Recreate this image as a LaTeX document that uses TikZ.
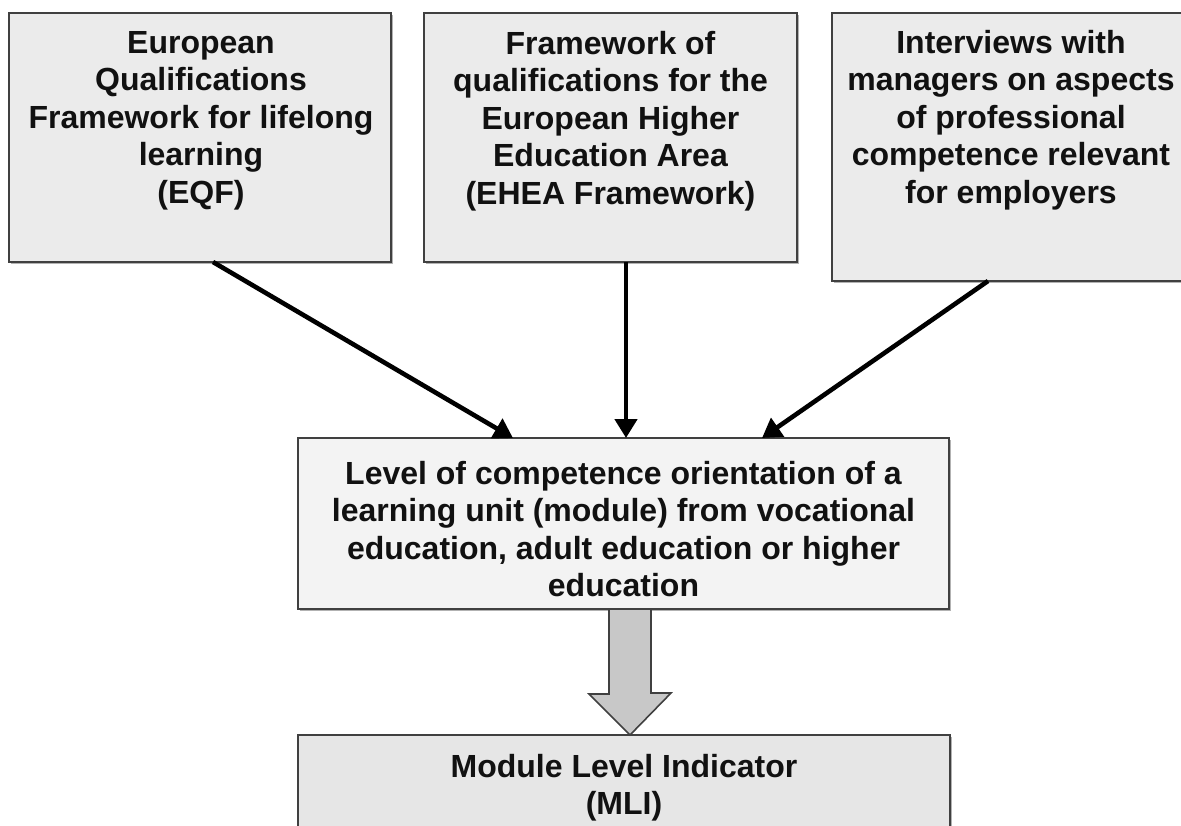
\documentclass[tikz,border=0pt]{standalone}
\usepackage{fontspec}
\setmainfont{Liberation Sans}
\usetikzlibrary{arrows.meta,calc,shadows}
\definecolor{boxline}{HTML}{404040}
\definecolor{topfill}{HTML}{EBEBEB}
\definecolor{midfill}{HTML}{F3F3F3}
\definecolor{botfill}{HTML}{E6E6E6}
\definecolor{bigarrow}{HTML}{C8C8C8}
\definecolor{txt}{HTML}{111111}
\begin{document}
\begin{tikzpicture}[x=1pt,y=-1pt,
  boxstyle/.style={draw=boxline,line width=2.2pt,inner sep=0pt,outer sep=0pt,
    drop shadow={shadow xshift=1.5pt,shadow yshift=-1.5pt,fill=gray!60,opacity=1}},
  labelstyle/.style={anchor=north,inner sep=0pt,align=center,text=txt,
    font=\bfseries\fontsize{32}{37.5}\selectfont},
  arr/.style={draw=black,line width=4.6pt,-{Triangle[length=19pt,width=22pt]}},
  fat/.style={draw=boxline,line width=1.6pt,fill=bigarrow,line join=miter}]
\useasboundingbox (0,0) rectangle (1181,825);
\clip (0,0) rectangle (1181,825);
\fill[white] (0,0) rectangle (1181,825);

% boxes
\node[boxstyle,fill=topfill,minimum width=382pt,minimum height=249pt] (b1) at (200,137.5) {};
\node[boxstyle,fill=topfill,minimum width=373pt,minimum height=249pt] (b2) at (610.5,137.5) {};
\node[boxstyle,fill=topfill,minimum width=358pt,minimum height=268pt] (b3) at (1011,147) {};
\node[boxstyle,fill=midfill,minimum width=651pt,minimum height=171pt] (mid) at (623.5,523.5) {};
\node[boxstyle,fill=botfill,minimum width=652pt,minimum height=125pt] (bot) at (624,797.5) {};

% texts
\node[labelstyle] (t1) at ($(b1.north)+(1,18)$) {European\\Qualifications\\Framework for lifelong\\learning\\(EQF)};
\node[labelstyle] (t2) at ($(b2.north)+(0,18)$) {Framework of\\qualifications for the\\European Higher\\Education Area\\(EHEA Framework)};
\node[labelstyle] (t3) at ($(b3.north)+(0,17)$) {Interviews with\\managers on aspects\\of professional\\competence relevant\\for employers};
\node[labelstyle] (tm) at ($(mid.north)+(0,23)$) {Level of competence orientation of a\\learning unit (module) from vocational\\education, adult education or higher\\education};
\node[labelstyle] (tb) at ($(bot.north)+(0,19)$) {Module Level Indicator\\(MLI)};

% connectors
\draw[arr] ([xshift=13pt]b1.south) -- ([xshift=-110.5pt]mid.north);
\draw[arr] ([xshift=15.5pt]b2.south) -- ([xshift=2.5pt]mid.north);
\draw[arr] ([xshift=-23pt]b3.south) -- ([xshift=138.5pt]mid.north);

% big arrow
\coordinate (tip) at ([xshift=6pt]bot.north);
\draw[fat] (tip) -- ++(-41,-41) -- ++(20,0) |- ($(mid.south)+(-14.5,0)$) -- ++(42,0) -- ++(0,84) -- ++(20,0) -- cycle;
\end{tikzpicture}
\end{document}
